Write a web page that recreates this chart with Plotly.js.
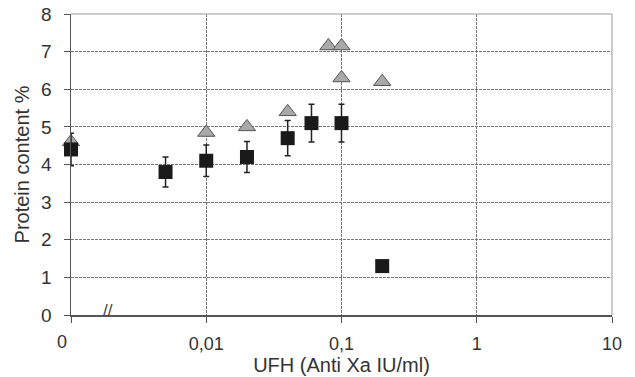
<!DOCTYPE html>
<html>
<head>
<meta charset="utf-8">
<script src="https://cdn.plot.ly/plotly-3.0.1.min.js"></script>
<style>html,body{margin:0;padding:0;background:#fff;}#chart{width:635px;height:377px;}</style>
</head>
<body>
<div id="chart"></div>
<script>
// UFH concentration (Anti Xa IU/ml); 0.001 stands for the "0" (no UFH) position on the broken axis
var squareX = [0.001, 0.005, 0.01, 0.02, 0.04, 0.06, 0.1, 0.2];
var squareY = [4.4, 3.8, 4.1, 4.2, 4.7, 5.1, 5.1, 1.3];
var squareErr = [0.43, 0.4, 0.42, 0.41, 0.47, 0.5, 0.5, 0];

var triangleX = [0.001, 0.01, 0.02, 0.04, 0.08, 0.1, 0.1, 0.2];
var triangleY = [4.6, 4.85, 5.0, 5.4, 7.15, 7.15, 6.3, 6.2];

var xTickVals = [0.001, 0.01, 0.1, 1, 10];
var xTickText = ['', '0,01', '0,1', '1', '10'];
var zeroLabel = '0';

var fam = 'Liberation Sans, Arial, sans-serif';
var tickFont = {family: fam, size: 19, color: '#333'};
var xTickFont = {family: fam, size: 18, color: '#333'};
var xTitleFont = {family: fam, size: 20, color: '#333'};
var yTitleFont = {family: fam, size: 20, color: '#333'};

var traces = [
  {
    type: 'scatter', mode: 'markers', x: triangleX, y: triangleY, cliponaxis: false,
    marker: {symbol: 'triangle-up', size: 15, color: '#a9a9a9', line: {color: '#555', width: 1}},
    hoverinfo: 'x+y', showlegend: false
  },
  {
    type: 'scatter', mode: 'markers', x: squareX, y: squareY, cliponaxis: false,
    error_y: {type: 'data', array: squareErr, visible: true, color: '#222', thickness: 1.5, width: 3},
    marker: {symbol: 'square', size: 14, color: '#1a1a1a', line: {width: 0}},
    hoverinfo: 'x+y', showlegend: false
  }
];

var layout = {
  width: 635, height: 377,
  margin: {l: 71, r: 23, t: 14, b: 62, pad: 0},
  paper_bgcolor: '#fff', plot_bgcolor: '#fff',
  font: tickFont,
  showlegend: false,
  xaxis: {
    type: 'log', range: [-3, 1],
    tickmode: 'array', tickvals: xTickVals, ticktext: xTickText,
    ticks: 'outside', ticklen: 6, tickcolor: '#555', tickwidth: 1,
    showline: true, linecolor: '#555', linewidth: 1.5,
    showgrid: true, gridcolor: '#777', gridwidth: 1, griddash: '3px,1px',
    zeroline: false,
    ticklabelstandoff: 6,
    tickfont: xTickFont,
    title: {text: 'UFH (Anti Xa IU/ml)', font: xTitleFont, standoff: 3}
  },
  yaxis: {
    range: [0, 8], dtick: 1, tick0: 0,
    ticks: 'outside', ticklen: 6, tickcolor: '#555', tickwidth: 1,
    showline: true, linecolor: '#555', linewidth: 1.5,
    showgrid: true, gridcolor: '#777', gridwidth: 1, griddash: '3px,1px',
    zeroline: false,
    ticklabelstandoff: 8,
    tickfont: tickFont,
    title: {text: 'Protein content %', font: yTitleFont, standoff: 6}
  },
  shapes: [
    {type: 'line', xref: 'paper', yref: 'paper', x0: 0, x1: 1, y0: 1, y1: 1, line: {color: '#bbb', width: 1.5}, layer: 'above'},
    {type: 'line', xref: 'paper', yref: 'paper', x0: 1, x1: 1, y0: 0, y1: 1, line: {color: '#bbb', width: 1.5}, layer: 'above'}
  ],
  annotations: [
    {xref: 'paper', yref: 'paper', x: 0, y: 0, text: zeroLabel, showarrow: false,
     xanchor: 'center', yanchor: 'top', yshift: -15, xshift: -9, font: xTickFont},
    {xref: 'paper', yref: 'paper', x: 0.068, y: 0.015, text: '//', showarrow: false,
     xanchor: 'center', yanchor: 'middle', font: {family: fam, size: 17, color: '#444'}}
  ]
};

Plotly.newPlot('chart', traces, layout, {displayModeBar: false, staticPlot: true});
</script>
</body>
</html>
